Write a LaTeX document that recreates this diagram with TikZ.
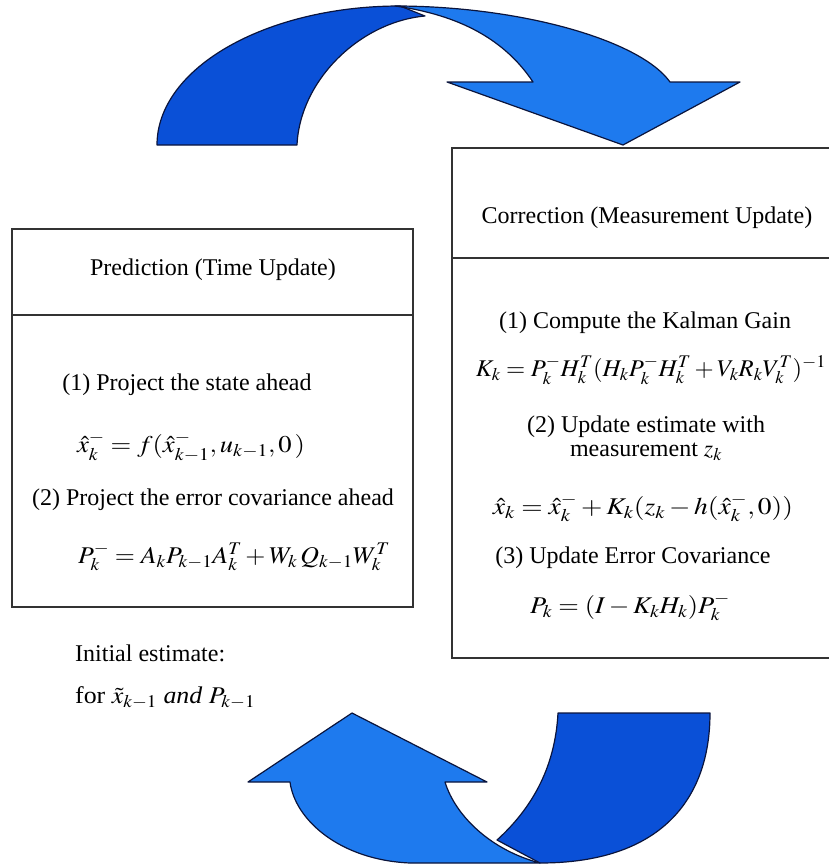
\documentclass[tikz,border=0pt]{standalone}
\usepackage{mathptmx}
\usepackage{fontspec}
\setmainfont{Liberation Serif}
\definecolor{darkblue}{RGB}{10,80,215}
\definecolor{lightblue}{RGB}{30,122,238}
\definecolor{edgecol}{RGB}{10,20,60}
\newcommand\fitw[2]{\resizebox{#1}{\height}{#2}}
\begin{document}
\begin{tikzpicture}[x=1pt,y=-1pt,
  box/.style={draw=black!80, line width=1.5pt},
  arrowpart/.style={draw=edgecol, line width=1.2pt, line join=round},
  txt/.style={font=\fontsize{24}{28}\selectfont, inner sep=0pt, anchor=center},
  ltxt/.style={font=\fontsize{24}{28}\selectfont, inner sep=0pt, anchor=west},
  ]
\useasboundingbox (0,0) rectangle (828,867);

% top curved arrow
\draw[arrowpart, fill=darkblue] (157,145) .. controls (157,68) and (266,6) .. (400,6)
  -- (425,16) .. controls (360,22) and (300,80) .. (297,145) -- cycle;
\draw[arrowpart, fill=lightblue] (395,6) .. controls (520,6) and (640,40) .. (670,82)
  -- (740,82) -- (623,145) -- (447,82) -- (533,82)
  .. controls (505,40) and (460,15) .. (395,6) -- cycle;

% bottom curved arrow
\draw[arrowpart, fill=darkblue] (558,713) -- (710,713) .. controls (710,800) and (660,863) .. (540,863)
  -- (497,840) .. controls (530,810) and (555,770) .. (558,713) -- cycle;
\draw[arrowpart, fill=lightblue] (290,782) -- (248,782) -- (352,713) -- (487,782) -- (445,782)
  .. controls (455,815) and (490,850) .. (540,863) -- (410,863)
  .. controls (340,860) and (295,820) .. (290,782) -- cycle;

% prediction box
\draw[box] (12,229) rectangle (413,607);
\draw[box] (12,315) -- (413,315);
% correction box
\draw[box] (452,148) rectangle (831,658);
\draw[box] (452,258) -- (831,258);

% prediction texts
\node[txt] (predtitle) at (213,270) {Prediction (Time Update)};
\node[txt] (pred1) at (187,385) {(1) Project the state ahead};
\node[txt] (predeq1) at (191,447) {\fitw{228pt}{$\hat{x}_k^- = f(\hat{x}_{k-1}^-, u_{k-1}, 0\,)$}};
\node[txt] (pred2) at (213,500) {(2) Project the error covariance ahead};
\node[txt] (predeq2) at (234,557) {\fitw{312pt}{$P_k^- = A_k P_{k-1} A_k^T + W_k\, Q_{k-1} W_k^T$}};

% correction texts
\node[txt] (corrtitle) at (647,218) {Correction (Measurement Update)};
\node[txt] (corr1) at (645,323) {(1) Compute the Kalman Gain};
\node[txt] (correq1) at (651,370) {\fitw{350pt}{$K_k = P_k^- H_k^T (H_k P_k^- H_k^T + V_k R_k V_k^T)^{-1}$}};
\node[txt] (corr2a) at (646,427) {(2) Update estimate with};
\node[txt] (corr2b) at (646,452) {measurement $z_k$};
\node[txt] (correq2) at (643,508) {\fitw{300pt}{$\hat{x}_k = \hat{x}_k^- + K_k (z_k - h(\hat{x}_k^-,0))$}};
\node[txt] (corr3) at (633,558) {(3) Update Error Covariance};
\node[txt] (correq3) at (630,607) {\fitw{200pt}{$P_k = (I - K_k H_k) P_k^-$}};

% initial estimate
\node[ltxt] (init1) at (75,653) {Initial estimate:};
\node[ltxt] (init2) at (75,698) {\fitw{180pt}{for $\tilde{x}_{k-1}$ \textit{and} $P_{k-1}$}};
\end{tikzpicture}
\end{document}
